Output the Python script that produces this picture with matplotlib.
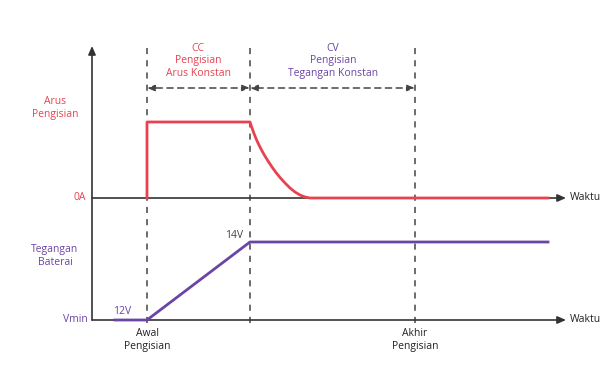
import matplotlib
matplotlib.use("Agg")
import matplotlib.pyplot as plt

# ---- data (schematic coordinates, x = time position, y = level) ----
phase_x = [147, 250, 415]          # start, CC->CV, end of charge
current_x = [147, 147, 250, 252, 254, 256, 258, 261, 264, 268, 272, 276, 280,
             285, 290, 295, 300, 305, 310, 548]
current_y = [183, 259, 259, 253, 247.5, 242.5, 238, 232, 226.5, 220, 214, 208.5, 203.5,
             198, 193, 189, 186, 184, 183, 183]
voltage_x = [115, 147, 250, 548]
voltage_y = [61, 61, 139, 139]

RED = "#e8424f"
PURPLE = "#6b45a6"
AX = "#333333"
FONT = ["Open Sans", "DejaVu Sans"]

fig = plt.figure(figsize=(6.02, 3.81), dpi=100)
ax = fig.add_axes([0, 0, 1, 1])
ax.set_xlim(0, 602)
ax.set_ylim(0, 381)
ax.axis("off")

# axes with arrows
arr = dict(arrowstyle="-|>,head_length=0.5,head_width=0.22", color=AX, lw=1.2, shrinkA=0, shrinkB=0)
ax.annotate("", xy=(92, 335), xytext=(92, 61), arrowprops=arr)
ax.annotate("", xy=(566, 183), xytext=(92, 183), arrowprops=arr)
ax.annotate("", xy=(566, 61), xytext=(92, 61), arrowprops=arr)

# vertical dashed phase lines
for x in phase_x:
    ax.plot([x, x], [58, 336], color="#444444", lw=1.1, ls=(0, (4, 4)), zorder=1)

# horizontal dashed double arrows
darr = dict(arrowstyle="<|-|>,head_length=0.45,head_width=0.18", color="#444444", lw=1.1,
            ls=(0, (4, 3)), shrinkA=0, shrinkB=0)
ax.annotate("", xy=(phase_x[0], 293), xytext=(phase_x[1], 293), arrowprops=darr)
ax.annotate("", xy=(phase_x[1], 293), xytext=(phase_x[2], 293), arrowprops=darr)

# curves
ax.plot(current_x, current_y, color=RED, lw=2, solid_joinstyle="round", zorder=3)
ax.plot(voltage_x, voltage_y, color=PURPLE, lw=2, zorder=3)

fs = 7.5
kw = dict(fontfamily=FONT, fontsize=fs, linespacing=1.15)
ax.text(198, 320, "CC\nPengisian\nArus Konstan", color=RED, ha="center", va="center", **kw)
ax.text(333, 320, "CV\nPengisian\nTegangan Konstan", color=PURPLE, ha="center", va="center", **kw)
ax.text(55, 273, "Arus\nPengisian", color=RED, ha="center", va="center", **kw)
ax.text(86, 183, "0A", color=RED, ha="right", va="center", **kw)
ax.text(55, 125, "Tegangan\nBaterai", color=PURPLE, ha="center", va="center", **kw)
ax.text(88, 61, "Vmin", color=PURPLE, ha="right", va="center", **kw)
ax.text(122, 70, "12V", color=PURPLE, ha="center", va="center", **kw)
ax.text(234, 145, "14V", color="#444444", ha="center", va="center", **kw)
ax.text(147, 41, "Awal\nPengisian", color="#222222", ha="center", va="center", **kw)
ax.text(415, 41, "Akhir\nPengisian", color="#222222", ha="center", va="center", **kw)
ax.text(570, 183, "Waktu", color="#222222", ha="left", va="center", **kw)
ax.text(570, 61, "Waktu", color="#222222", ha="left", va="center", **kw)

fig.savefig("out.png", dpi=100, facecolor="white")
